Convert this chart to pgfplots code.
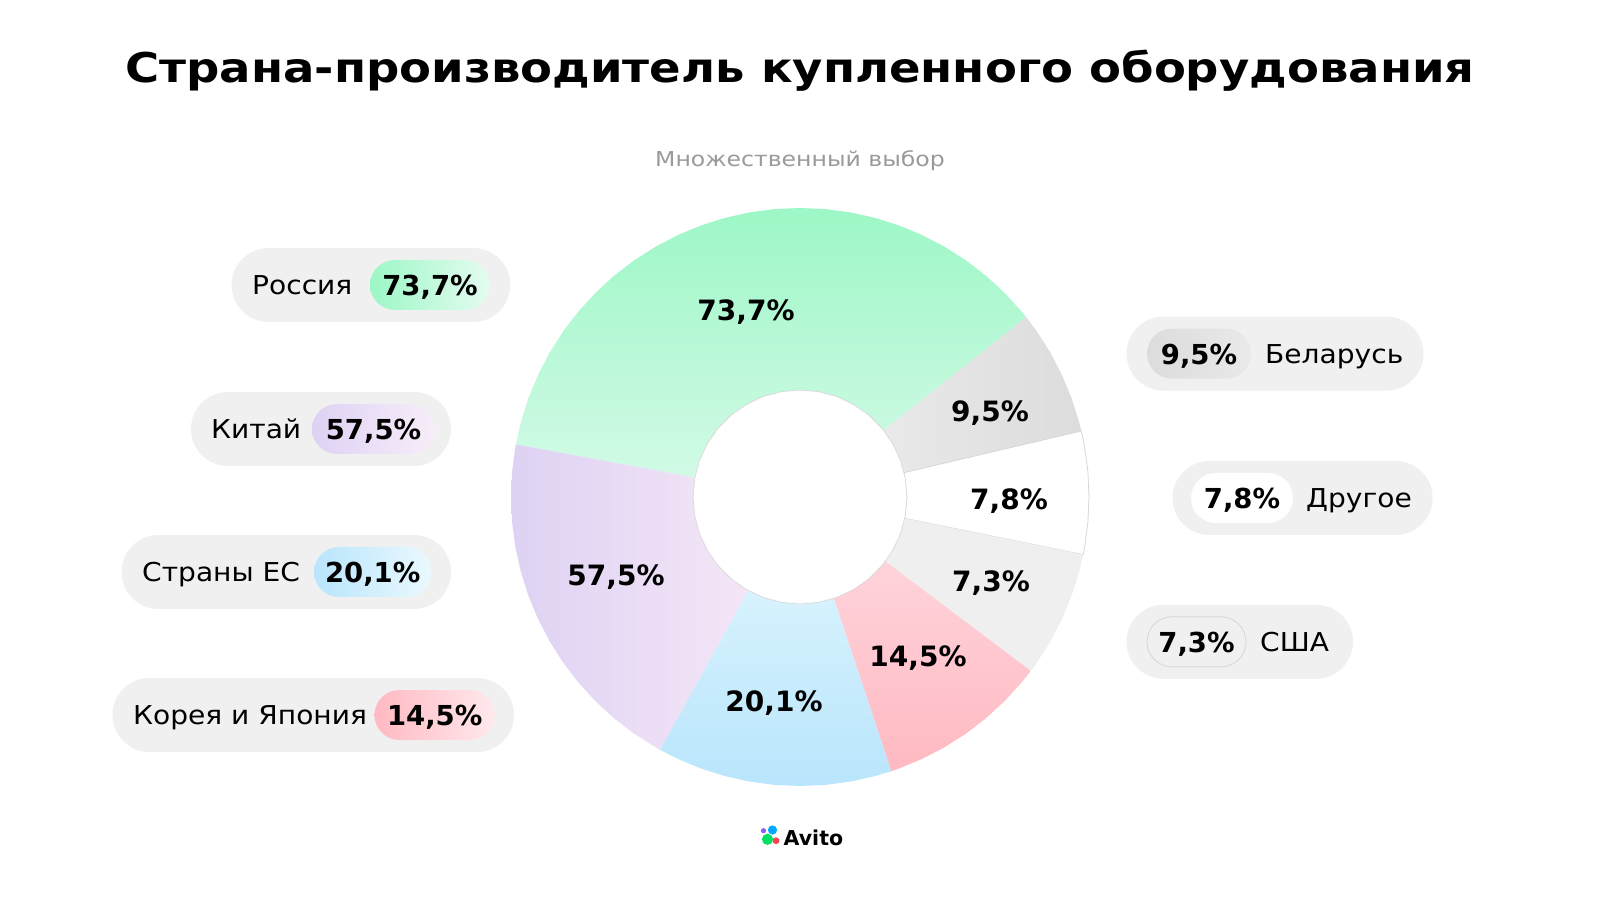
\documentclass[border=0pt]{standalone}
\usepackage{fontspec}
\setmainfont{DejaVu Sans}
\usepackage{pgfplots}
\pgfplotsset{compat=1.18}
\definecolor{pill}{HTML}{F0F0F0}
\definecolor{rusA}{HTML}{9DF7C6}\definecolor{rusB}{HTML}{D2FAE6}
\definecolor{chnA}{HTML}{DED2F4}\definecolor{chnB}{HTML}{F4E6F6}
\definecolor{euA}{HTML}{D6F2FD}\definecolor{euB}{HTML}{B9E5FC}
\definecolor{korA}{HTML}{FFD3DA}\definecolor{korB}{HTML}{FFB9C2}
\definecolor{usa}{HTML}{EFEFEF}
\definecolor{blrA}{HTML}{E9E9E9}\definecolor{blrB}{HTML}{DCDCDC}
\definecolor{edge}{HTML}{D6D6D6}
\definecolor{sub}{HTML}{9A9A9A}
\definecolor{lgP}{HTML}{8E5CF0}\definecolor{lgB}{HTML}{00AAFF}
\definecolor{lgG}{HTML}{04E061}\definecolor{lgR}{HTML}{FF4053}
\newcommand{\fs}[1]{\fontsize{#1}{#1}\selectfont}
\newcommand{\nm}[1]{\scalebox{1.08}[1]{\fs{26}#1}}
\newcommand{\pc}[1]{\fs{27.5}\bfseries #1}
\newcommand{\slc}[1]{\fs{28}\bfseries #1}
\begin{document}
\begin{tikzpicture}[x=1pt,y=1pt]
\path[use as bounding box, fill=white] (0,0) rectangle (1600,900);
% title
\node[anchor=base, inner sep=0] at (800,817.3) {\scalebox{1.135}[1]{\fs{41}\bfseries Страна-производитель купленного оборудования}};
\node[anchor=base, inner sep=0, text=sub] at (800,733.3) {\scalebox{1.15}[1]{\fs{20.5}Множественный выбор}};
\begin{axis}[at={(800pt,403pt)}, anchor=center, hide axis, clip=false,
  scale only axis, width=578pt, height=578pt, xmin=-1, xmax=1, ymin=-1, ymax=1,
  data cs=polar]
% Россия 73.7%
\addplot[draw=none, top color=rusA, bottom color=rusB] coordinates {
(169.5,1) (165,1) (160,1) (155,1) (150,1) (145,1) (140,1) (135,1) (130,1) (125,1) (120,1) (115,1) (110,1) (105,1) (100,1) (95,1) (90,1) (85,1) (80,1) (75,1) (70,1) (65,1) (60,1) (55,1) (50,1) (45,1) (40,1) (38.5,1)
(38.5,0.37) (50,0.37) (60,0.37) (70,0.37) (80,0.37) (90,0.37) (100,0.37) (110,0.37) (120,0.37) (130,0.37) (140,0.37) (150,0.37) (160,0.37) (169.5,0.37)} --cycle;
% Беларусь 9.5%
\addplot[draw=none, left color=blrA, right color=blrB] coordinates {
(38.5,1) (35,1) (30,1) (25,1) (20,1) (15,1) (13.2,1) (13.2,0.37) (25,0.37) (38.5,0.37)} --cycle;
% Другое 7.8%
\addplot[fill=white, draw=edge, line width=0.8pt] coordinates {
(13.2,1) (10,1) (5,1) (0,1) (-5,1) (-10,1) (-11.5,1) (-11.5,0.37) (0,0.37) (13.2,0.37)} --cycle;
% США 7.3%
\addplot[draw=none, fill=usa] coordinates {
(-11.5,1) (-15,1) (-20,1) (-25,1) (-30,1) (-35,1) (-37,1) (-37,0.37) (-25,0.37) (-11.5,0.37)} --cycle;
% Корея и Япония 14.5%
\addplot[draw=none, top color=korA, bottom color=korB] coordinates {
(-37,1) (-40,1) (-45,1) (-50,1) (-55,1) (-60,1) (-65,1) (-70,1) (-71.6,1) (-71.6,0.37) (-60,0.37) (-50,0.37) (-37,0.37)} --cycle;
% Страны ЕС 20.1%
\addplot[draw=none, top color=euA, bottom color=euB] coordinates {
(-71.6,1) (-75,1) (-80,1) (-85,1) (-90,1) (-95,1) (-100,1) (-105,1) (-110,1) (-115,1) (-119,1)
(-119,0.37) (-110,0.37) (-100,0.37) (-90,0.37) (-80,0.37) (-71.6,0.37)} --cycle;
% Китай 57.5%
\addplot[draw=none, left color=chnA, right color=chnB] coordinates {
(-119,1) (-125,1) (-130,1) (-135,1) (-140,1) (-145,1) (-150,1) (-155,1) (-160,1) (-165,1) (-170,1) (-175,1) (-180,1) (-185,1) (-190,1) (-190.5,1)
(-190.5,0.37) (-180,0.37) (-170,0.37) (-160,0.37) (-150,0.37) (-140,0.37) (-130,0.37) (-120,0.37) (-119,0.37)} --cycle;
% hole
\addplot[fill=white, draw=edge, line width=0.6pt] coordinates {
(0,0.37) (10,0.37) (20,0.37) (30,0.37) (40,0.37) (50,0.37) (60,0.37) (70,0.37) (80,0.37) (90,0.37) (100,0.37) (110,0.37) (120,0.37) (130,0.37) (140,0.37) (150,0.37) (160,0.37) (170,0.37) (180,0.37) (190,0.37) (200,0.37) (210,0.37) (220,0.37) (230,0.37) (240,0.37) (250,0.37) (260,0.37) (270,0.37) (280,0.37) (290,0.37) (300,0.37) (310,0.37) (320,0.37) (330,0.37) (340,0.37) (350,0.37)} --cycle;
\end{axis}
% slice labels
\begin{scope}[every node/.style={anchor=base, inner sep=0}]
\node at (746,579.3) {\slc{73,7\%}};
\node at (990,478.3) {\slc{9,5\%}};
\node at (1009,390.3) {\slc{7,8\%}};
\node at (991,308.3) {\slc{7,3\%}};
\node at (918,233.3) {\slc{14,5\%}};
\node at (774,188.3) {\slc{20,1\%}};
\node at (616,314.8) {\slc{57,5\%}};
\end{scope}
% left pills
\fill[pill, rounded corners=37] (231.6,578) rectangle (510.2,652);
\shade[left color=rusA, right color=rusB!60!white, rounded corners=25] (370,590) rectangle (490,640);
\node[anchor=base west, inner sep=0] at (252,605.5) {\nm{Россия}};
\node[anchor=base, inner sep=0] at (430,604.5) {\pc{73,7\%}};
\fill[pill, rounded corners=37] (191,434) rectangle (451,508);
\shade[left color=chnA, right color=chnB!70!white, rounded corners=25] (312,446) rectangle (435,496);
\node[anchor=base west, inner sep=0] at (211,461.5) {\nm{Китай}};
\node[anchor=base, inner sep=0] at (373.5,460.5) {\pc{57,5\%}};
\fill[pill, rounded corners=37] (121.5,291) rectangle (451,365);
\shade[left color=euB, right color=euA!50!white, rounded corners=25] (314,303) rectangle (431.5,353);
\node[anchor=base west, inner sep=0] at (142,318.5) {\nm{Страны ЕС}};
\node[anchor=base, inner sep=0] at (372.7,317.5) {\pc{20,1\%}};
\fill[pill, rounded corners=37] (112.5,148) rectangle (514,222);
\shade[left color=korB, right color=korA!50!white, rounded corners=25] (374.5,160) rectangle (495,210);
\node[anchor=base west, inner sep=0] at (133,175.5) {\nm{Корея и Япония}};
\node[anchor=base, inner sep=0] at (434.7,174.5) {\pc{14,5\%}};
% right pills
\fill[pill, rounded corners=37] (1126.5,509.4) rectangle (1423.5,583.4);
\shade[left color=blrB, right color=blrA, rounded corners=25] (1147,521.4) rectangle (1251,571.4);
\node[anchor=base, inner sep=0] at (1199,535.9) {\pc{9,5\%}};
\node[anchor=base west, inner sep=0] at (1265,536.9) {\nm{Беларусь}};
\fill[pill, rounded corners=37] (1172.5,365) rectangle (1432.6,439);
\fill[white, rounded corners=25] (1191,377) rectangle (1293,427);
\node[anchor=base, inner sep=0] at (1242,391.5) {\pc{7,8\%}};
\node[anchor=base west, inner sep=0] at (1306,392.5) {\nm{Другое}};
\fill[pill, rounded corners=37] (1126.5,221.2) rectangle (1353,295.2);
\draw[edge, line width=0.8pt, rounded corners=25] (1147,233.2) rectangle (1246,283.2);
\node[anchor=base, inner sep=0] at (1196.5,247.7) {\pc{7,3\%}};
\node[anchor=base west, inner sep=0] at (1260,248.7) {\nm{США}};
% logo
\fill[lgP] (763.5,69.3) circle (2.6);
\fill[lgB] (772.5,70) circle (4.6);
\fill[lgG] (767.5,60.7) circle (5.6);
\fill[lgR] (776,59.3) circle (3.4);
\node[anchor=base west, inner sep=0] at (783.5,55) {\fs{20.5}\bfseries Avito};
\end{tikzpicture}
\end{document}
